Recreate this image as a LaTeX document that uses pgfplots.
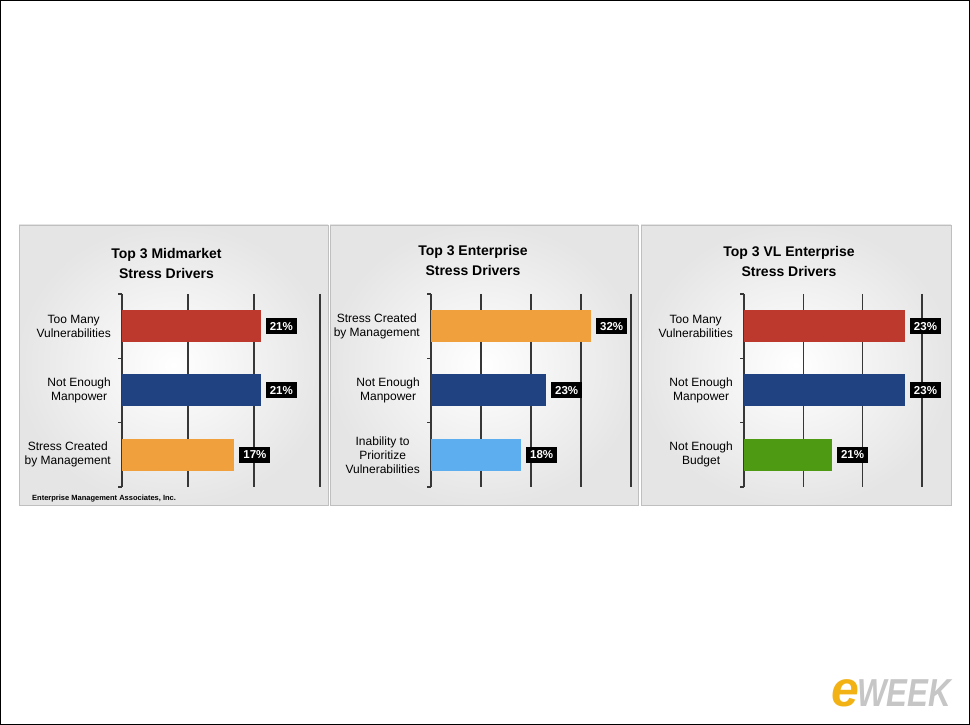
\documentclass[border=0pt]{standalone}
\usepackage{pgfplots}
\pgfplotsset{compat=1.18}
\usepackage{fontspec}
\setmainfont{Liberation Sans}

\definecolor{cred}{RGB}{190,57,45}
\definecolor{cblue}{RGB}{33,66,128}
\definecolor{corange}{RGB}{240,160,60}
\definecolor{clblue}{RGB}{92,174,238}
\definecolor{cgreen}{RGB}{78,154,18}
\definecolor{gridc}{RGB}{55,55,55}
\definecolor{eyellow}{RGB}{242,178,20}

\pgfplotsset{
 panel/.style={
  scale only axis, height=193pt,
  xbar, bar width=32pt, bar shift=0pt,
  xmin=0, ymin=-0.5, ymax=2.5, y dir=reverse,
  axis x line*=bottom, axis y line*=left,
  x axis line style={draw=none},
  y axis line style={draw=gridc, line width=2pt, -},
  xmajorgrids, grid style={draw=gridc, line width=1.1pt},
  xticklabels={}, x tick style={draw=none},
  ytick={-0.5,0.5,1.5,2.5},
  tick align=outside, major tick length=4pt,
  y tick style={draw=gridc, line width=1.5pt},
  yticklabel style={align=center, font=\fontsize{12}{14}\selectfont, inner xsep=0pt, xshift=-7pt, yshift=-32.17pt},
  point meta=explicit symbolic,
  nodes near coords,
  every node near coord/.style={fill=black, text=white, font=\bfseries\fontsize{11.5}{11.5}\selectfont, anchor=west, inner xsep=4pt, inner ysep=0pt, minimum height=16pt, xshift=5pt},
  every axis plot/.append style={draw=none},
  clip=false,
 }
}

\begin{document}
\begin{tikzpicture}[x=1pt,y=1pt]
\useasboundingbox (0,0) rectangle (970,725);
\fill[white] (0,0) rectangle (970,725);
\draw[black, line width=1pt] (0.5,0.5) rectangle (969.5,724.5);

% panels
\foreach \a/\b in {19/328, 330/638, 641/951}{
  \shade[inner color=white, outer color=gray!20] (\a,220) rectangle (\b,500);
  \draw[gray!50, line width=0.6pt] (\a,220) rectangle (\b,500);
}

% titles
\node[align=center, font=\bfseries\fontsize{14}{20}\selectfont] at (166.5,461.3) {Top 3 Midmarket\\Stress Drivers};
\node[align=center, font=\bfseries\fontsize{14}{20}\selectfont] at (473,464.7) {Top 3 Enterprise\\Stress Drivers};
\node[align=center, font=\bfseries\fontsize{14}{20}\selectfont] at (789,463.3) {Top 3 VL Enterprise\\Stress Drivers};

% panel 1
\begin{axis}[panel, at={(122pt,238pt)}, anchor=south west, width=198pt,
  xmax=30, xtick={10,20,30},
  yticklabels={{Too Many\\Vulnerabilities},{Not Enough\\Manpower},{Stress Created\\by Management},{}}]
\addplot[fill=cred] coordinates {(21,0) [21\%]};
\addplot[fill=cblue] coordinates {(21,1) [21\%]};
\addplot[fill=corange] coordinates {(17,2) [17\%]};
\end{axis}

% panel 2
\begin{axis}[panel, at={(431pt,238pt)}, anchor=south west, width=200pt,
  xmax=40, xtick={10,20,30,40},
  yticklabels={{Stress Created\\by Management},{Not Enough\\Manpower},{Inability to\\Prioritize\\Vulnerabilities},{}}]
\addplot[fill=corange] coordinates {(32,0) [32\%]};
\addplot[fill=cblue] coordinates {(23,1) [23\%]};
\addplot[fill=clblue] coordinates {(18,2) [18\%]};
\end{axis}

% panel 3
\begin{axis}[panel, at={(744pt,238pt)}, anchor=south west, width=178pt,
  xmax=30, xtick={10,20,30},
  yticklabels={{Too Many\\Vulnerabilities},{Not Enough\\Manpower},{Not Enough\\Budget},{}}]
\addplot[fill=cred] coordinates {(27.1,0) [23\%]};
\addplot[fill=cblue] coordinates {(27.1,1) [23\%]};
\addplot[fill=cgreen] coordinates {(14.8,2) [21\%]};
\end{axis}

% source
\node[anchor=base west, inner sep=0pt, font=\bfseries\fontsize{7.5}{9}\selectfont] at (32,224) {Enterprise Management Associates, Inc.};

% eWEEK logo
\node[anchor=base west, inner sep=0pt, font=\bfseries\itshape] at (831,18)
  {{\color{eyellow}\fontsize{50}{50}\selectfont e}\kern-2pt{\color{gray!45}\fontsize{39}{39}\selectfont\scalebox{0.8}[1]{WEEK}}};
\end{tikzpicture}
\end{document}
